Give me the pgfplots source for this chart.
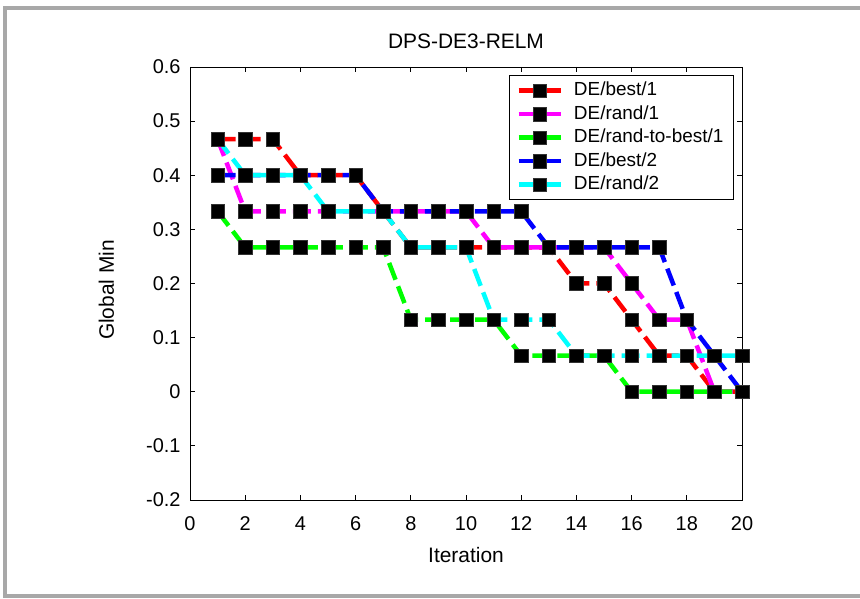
\documentclass[border=0pt]{standalone}
\usepackage{fontspec}
\setmainfont{Liberation Sans}
\usepackage{pgfplots}
\usepackage{pgfplotstable}
\pgfplotsset{compat=1.18}

\definecolor{mred}{RGB}{255,0,0}
\definecolor{mmag}{RGB}{255,0,255}
\definecolor{mgreen}{RGB}{0,255,0}
\definecolor{mblue}{RGB}{0,0,255}
\definecolor{mcyan}{RGB}{0,255,255}
\definecolor{framegray}{RGB}{168,168,168}

% global minimum per iteration, one column per strategy
\pgfplotstableread{
it best1  rand1  rtb1   best2  rand2
1  0.4667 0.4667 0.3333 0.4    0.4667
2  0.4667 0.3333 0.2667 0.4    0.4
3  0.4667 0.3333 0.2667 0.4    0.4
4  0.4    0.3333 0.2667 0.4    0.4
5  0.4    0.3333 0.2667 0.4    0.3333
6  0.4    0.3333 0.2667 0.4    0.3333
7  0.3333 0.3333 0.2667 0.3333 0.3333
8  0.2667 0.3333 0.1333 0.3333 0.2667
9  0.2667 0.3333 0.1333 0.3333 0.2667
10 0.2667 0.3333 0.1333 0.3333 0.2667
11 0.2667 0.2667 0.1333 0.3333 0.1333
12 0.2667 0.2667 0.0667 0.3333 0.1333
13 0.2667 0.2667 0.0667 0.2667 0.1333
14 0.2    0.2667 0.0667 0.2667 0.0667
15 0.2    0.2667 0.0667 0.2667 0.0667
16 0.1333 0.2    0      0.2667 0.0667
17 0.0667 0.1333 0      0.2667 0.0667
18 0.0667 0.1333 0      0.1333 0.0667
19 0      0      0      0.0667 0.0667
20 0      0      0      0      0.0667
}\conv

\begin{document}
\begin{tikzpicture}
\useasboundingbox (0,0) rectangle (860bp,599bp);
\draw[framegray, line width=4bp] (870bp,591bp) -- (5bp,591bp) -- (5bp,3bp) -- (870bp,3bp);
\begin{axis}[scale only axis, width=552bp, height=433bp,
  at={(190bp,99bp)}, anchor=south west,
  font=\fontsize{20}{24}\selectfont,
  xmin=0, xmax=20, ymin=-0.2, ymax=0.6,
  xtick={0,2,4,6,8,10,12,14,16,18,20},
  ytick={-0.2,-0.1,0,0.1,0.2,0.3,0.4,0.5,0.6},
  /pgf/number format/assume math mode=true,
  yticklabel style={/pgf/number format/fixed, /pgf/number format/precision=1, xshift=-6bp},
  xticklabel style={yshift=-13bp},
  tick align=inside, major tick length=5bp,
  every tick/.style={black, line width=0.8bp},
  axis line style={black, line width=0.8bp},
  title={DPS-DE3-RELM},
  title style={at={(axis description cs:0.5,1.028)}, anchor=base,
    font=\fontsize{21}{25}\selectfont},
  xlabel={Iteration},
  xlabel style={at={(axis description cs:0.5,-0.1455)}, anchor=base,
    font=\fontsize{21}{25}\selectfont},
  ylabel={Global Min},
  ylabel style={at={(axis description cs:-0.1377,0.485)}, anchor=base, rotate=0,
    font=\fontsize{21}{25}\selectfont},
  every axis plot/.append style={line width=4.5bp, dash pattern=on 18bp off 7bp,
    mark=square*, mark size=6.8bp,
    mark options={solid, fill=black, draw=black!80, line width=0.6bp}},
  legend image code/.code={
    \draw[#1, solid, mark repeat=2, mark phase=2]
    plot coordinates {(0bp,0bp) (21bp,0bp) (42bp,0bp)};},
  legend cell align=left,
  legend style={at={(axis description cs:0.578,0.981)}, anchor=north west,
    draw=black, line width=0.8bp, fill=white,
    font=\fontsize{19}{22}\selectfont,
    inner xsep=7bp, inner ysep=6bp, row sep=5.5bp,
    /tikz/every odd column/.append style={column sep=8bp},
    nodes={inner xsep=3bp, inner ysep=0bp, text height=14bp, text depth=4bp}},
]
\addplot[mred] table[x=it, y=best1] {\conv};
\addplot[mmag] table[x=it, y=rand1] {\conv};
\addplot[mgreen] table[x=it, y=rtb1] {\conv};
\addplot[mblue] table[x=it, y=best2] {\conv};
\addplot[mcyan] table[x=it, y=rand2] {\conv};
\legend{DE/best/1, DE/rand/1, DE/rand-to-best/1, DE/best/2, DE/rand/2}
\end{axis}
\end{tikzpicture}
\end{document}
